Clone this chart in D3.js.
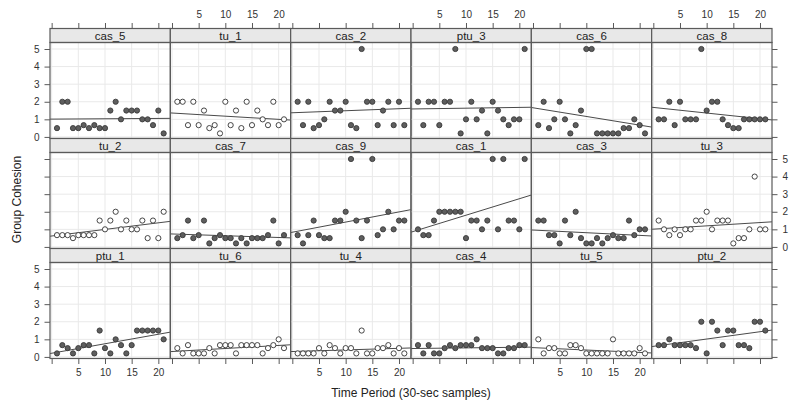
<!DOCTYPE html>
<html>
<head>
<meta charset="utf-8">
<script src="https://cdn.jsdelivr.net/npm/d3@7"></script>
<style>
  body { margin: 0; background: #fff; }
  svg { display: block; font-family: "Liberation Sans", Arial, sans-serif; }
</style>
</head>
<body>
<div id="chart"></div>
<script>
// DATA
const timePeriods = d3.range(1, 22);
const xTicks = [0, 5, 10, 15, 20];
const yTicks = [0, 1, 2, 3, 4, 5];

// panel order, row by row from the top
const panelRows = [
    ["cas_5", "tu_1", "cas_2", "ptu_3", "cas_6", "cas_8"],
    ["tu_2", "cas_7", "cas_9", "cas_1", "cas_3", "tu_3"],
    ["ptu_1", "tu_6", "tu_4", "cas_4", "tu_5", "ptu_2"]
];

const cas_5 = [0.5,2,2,0.5,0.5,0.67,0.5,0.67,0.5,0.5,1.5,2,1,1.5,1.5,1.5,1,1,0.67,1.5,0.2];
const tu_1  = [2,2,0.67,2,0.67,1.5,0.5,0.67,0.2,2,0.67,1.5,0.5,2,0.67,1.5,1,0.67,2,0.67,1];
const cas_2 = [2,0.67,2,0.5,0.67,1,2,1.5,1.5,2,0.67,0.5,5,2,2,0.67,1.5,2,0.67,2,0.67];
const ptu_3 = [2,0.67,2,2,0.67,2,2,5,0.2,1,2,1,1.5,0.2,2,1.5,1,0.67,1,1,5];
const cas_6 = [0.67,2,0.5,1,2,1,0.2,0.67,1.5,5,5,0.2,0.2,0.2,0.2,0.2,0.5,0.5,1,0.67,0.2];
const cas_8 = [1,1,2,0.67,2,1,1,1,5,1.5,2,2,1,0.67,0.5,0.5,1,1,1,1,1];

const tu_2  = [0.67,0.67,0.67,0.5,0.67,0.67,0.67,0.67,1.5,1,1.5,2,1,1.5,1,1,1.5,0.5,1.5,0.5,2];
const cas_7 = [0.5,0.67,1.5,0.5,0.67,1.5,0.2,0.5,0.67,0.5,0.5,0.2,0.5,0.2,0.5,0.5,0.5,0.67,1.5,0.2,0.67];
const cas_9 = [0.67,0.2,0.67,1.5,0.67,0.5,0.5,1.5,1.5,2,5,1.5,0.5,1.5,5,0.67,1,2,1,1.5,1.5];
const cas_1 = [1,0.67,0.67,1.5,2,2,2,2,2,0.5,1.5,1.5,1,1.5,5,1,5,1.5,1.5,1,5];
const cas_3 = [1.5,1.5,0.67,0.67,0.2,1.5,0.67,2,0.5,0.2,0.2,0.5,0.2,0.5,0.67,0.5,0.5,1.5,0.67,1,1];
const tu_3  = [1.5,1,0.67,1,0.67,1,1,1.5,1.5,2,1,1.5,1.5,1.5,0.2,0.5,0.5,1,4,1,1];

const ptu_1 = [0.2,0.67,0.5,0.2,0.5,0.67,0.67,0.2,1.5,0.5,0.2,1,0.67,0.2,0.67,1.5,1.5,1.5,1.5,1.5,1];
const tu_6  = [0.5,0.2,0.67,0.2,0.2,0.2,0.5,0.2,0.67,0.67,0.67,0.2,0.67,0.67,0.67,0.67,0.2,0.5,0.67,1,0.5];
const tu_4  = [0.2,0.2,0.2,0.2,0.5,0.2,0.67,0.5,0.2,0.5,0.5,0.2,1.5,0.2,0.2,0.5,0.5,0.67,0.2,0.5,0.2];
const cas_4 = [0.67,0.2,0.67,0.2,0.2,0.5,0.67,0.5,0.67,0.67,0.67,1,0.5,0.5,0.5,0.2,0.2,0.5,0.5,0.67,0.67];
const tu_5  = [1,0.2,0.5,0.5,0.2,0.2,0.67,0.67,0.5,0.2,0.2,0.2,0.2,0.2,1,0.2,0.2,0.2,0.2,0.5,0.2];
const ptu_2 = [0.67,0.67,1,0.67,0.67,0.67,0.67,0.5,2,0.2,2,1.5,0.67,1.5,1.5,0.67,0.67,0.5,2,2,1.5];

const series = {cas_5, tu_1, cas_2, ptu_3, cas_6, cas_8,
                tu_2, cas_7, cas_9, cas_1, cas_3, tu_3,
                ptu_1, tu_6, tu_4, cas_4, tu_5, ptu_2};

// HELPERS
function lmFit(xs, ys) {
    const mx = d3.mean(xs), my = d3.mean(ys);
    let sxy = 0, sxx = 0;
    xs.forEach((x, i) => { sxy += (x - mx) * (ys[i] - my); sxx += (x - mx) * (x - mx); });
    const b = sxy / sxx;
    return {a: my - b * mx, b: b};
}

// DRAWING SETUP
const W = 800, H = 406;
const plotLeft = 50, plotRight = 772, plotTop = 28.5;
const rowH = 110, stripH = 14;
const nCols = 6;
const colW = (plotRight - plotLeft) / nCols;
const tickLen = 5.5;
const borderCol = "#5a5a5a";
const gridCol = "#e9e9e9";

const svg = d3.select("#chart").append("svg")
    .attr("width", W)
    .attr("height", H);

svg.append("rect").attr("width", W).attr("height", H).attr("fill", "#fff");

function styleAxis(a) {
    a.select(".domain").remove();
    a.selectAll(".tick line").attr("stroke", borderCol).attr("stroke-width", 1);
    a.selectAll(".tick text").attr("font-size", 10).attr("fill", "#333")
        .attr("font-family", "'Liberation Sans', Arial, sans-serif");
}

panelRows.forEach((row, r) => {
    row.forEach((name, c) => {
        const x0 = plotLeft + c * colW, x1 = x0 + colW;
        const sTop = plotTop + r * rowH;
        const pTop = sTop + stripH, pBot = plotTop + (r + 1) * rowH;

        const xScale = d3.scaleLinear().domain([-0.31, 22.25]).range([x0, x1]);
        const yScale = d3.scaleLinear().domain([-0.09, 5.37]).range([pBot, pTop]);

        const g = svg.append("g").attr("class", "panel " + name);

        const clipId = "clip-" + name;
        g.append("clipPath").attr("id", clipId)
            .append("rect").attr("x", x0).attr("y", pTop).attr("width", colW).attr("height", pBot - pTop);

        // grid
        g.selectAll(".gx").data(xTicks).enter().append("line")
            .attr("x1", d => xScale(d)).attr("x2", d => xScale(d))
            .attr("y1", pTop).attr("y2", pBot)
            .attr("stroke", gridCol).attr("stroke-width", 1);
        g.selectAll(".gy").data(yTicks).enter().append("line")
            .attr("x1", x0).attr("x2", x1)
            .attr("y1", d => yScale(d)).attr("y2", d => yScale(d))
            .attr("stroke", gridCol).attr("stroke-width", 1);

        // regression line
        const ys = series[name];
        const fit = lmFit(timePeriods, ys);
        const dom = xScale.domain();
        g.append("line")
            .attr("clip-path", `url(#${clipId})`)
            .attr("x1", xScale(dom[0])).attr("y1", yScale(fit.a + fit.b * dom[0]))
            .attr("x2", xScale(dom[1])).attr("y2", yScale(fit.a + fit.b * dom[1]))
            .attr("stroke", "#4a4a4a").attr("stroke-width", 1);

        // points
        const open = name.startsWith("tu_");
        g.selectAll(".pt").data(ys).enter().append("circle")
            .attr("cx", (d, i) => xScale(timePeriods[i]))
            .attr("cy", d => yScale(d))
            .attr("r", 2.6)
            .attr("fill", open ? "#fff" : "#5e5e5e")
            .attr("stroke", open ? "#333" : "#3a3a3a")
            .attr("stroke-width", 0.9);

        // strip
        g.append("rect")
            .attr("x", x0).attr("y", sTop).attr("width", colW).attr("height", stripH)
            .attr("fill", "#e8e8e8").attr("stroke", borderCol).attr("stroke-width", 1.2);
        g.append("text")
            .attr("x", (x0 + x1) / 2).attr("y", sTop + stripH / 2 + 4.2)
            .attr("text-anchor", "middle").attr("font-size", 11.5).attr("fill", "#222")
            .text(name);

        // panel border
        g.append("rect")
            .attr("x", x0).attr("y", pTop).attr("width", colW).attr("height", pBot - pTop)
            .attr("fill", "none").attr("stroke", borderCol).attr("stroke-width", 1.2);

        // x axes: top on first row, bottom on last row
        if (r === 0) {
            const ax = d3.axisTop(xScale).tickValues(xTicks).tickSizeInner(tickLen).tickSizeOuter(0)
                .tickPadding(5)
                .tickFormat(d => (c % 2 === 1 && d > 0) ? d : "");
            const a = svg.append("g").attr("transform", `translate(0,${sTop})`).call(ax);
            styleAxis(a);
        }
        if (r === panelRows.length - 1) {
            const ax = d3.axisBottom(xScale).tickValues(xTicks).tickSizeInner(tickLen).tickSizeOuter(0)
                .tickPadding(5)
                .tickFormat(d => (c % 2 === 0 && d > 0) ? d : "");
            const a = svg.append("g").attr("transform", `translate(0,${pBot})`).call(ax);
            styleAxis(a);
        }
        // y axes: left on first column, right on last column
        if (c === 0) {
            const ax = d3.axisLeft(yScale).tickValues(yTicks).tickSizeInner(tickLen).tickSizeOuter(0)
                .tickPadding(5)
                .tickFormat(d => (r % 2 === 0) ? d : "");
            const a = svg.append("g").attr("transform", `translate(${x0},0)`).call(ax);
            styleAxis(a);
        }
        if (c === nCols - 1) {
            const ax = d3.axisRight(yScale).tickValues(yTicks).tickSizeInner(tickLen).tickSizeOuter(0)
                .tickPadding(5)
                .tickFormat(d => (r % 2 === 1) ? d : "");
            const a = svg.append("g").attr("transform", `translate(${x1},0)`).call(ax);
            styleAxis(a);
        }
    });
});

// axis titles
svg.append("text")
    .attr("x", (plotLeft + plotRight) / 2).attr("y", 397)
    .attr("text-anchor", "middle").attr("font-size", 12).attr("fill", "#222")
    .text("Time Period (30-sec samples)");

svg.append("text")
    .attr("transform", `translate(21,${(plotTop + plotTop + 3 * rowH) / 2 + 6}) rotate(-90)`)
    .attr("text-anchor", "middle").attr("font-size", 12).attr("fill", "#222")
    .text("Group Cohesion");
</script>
</body>
</html>
